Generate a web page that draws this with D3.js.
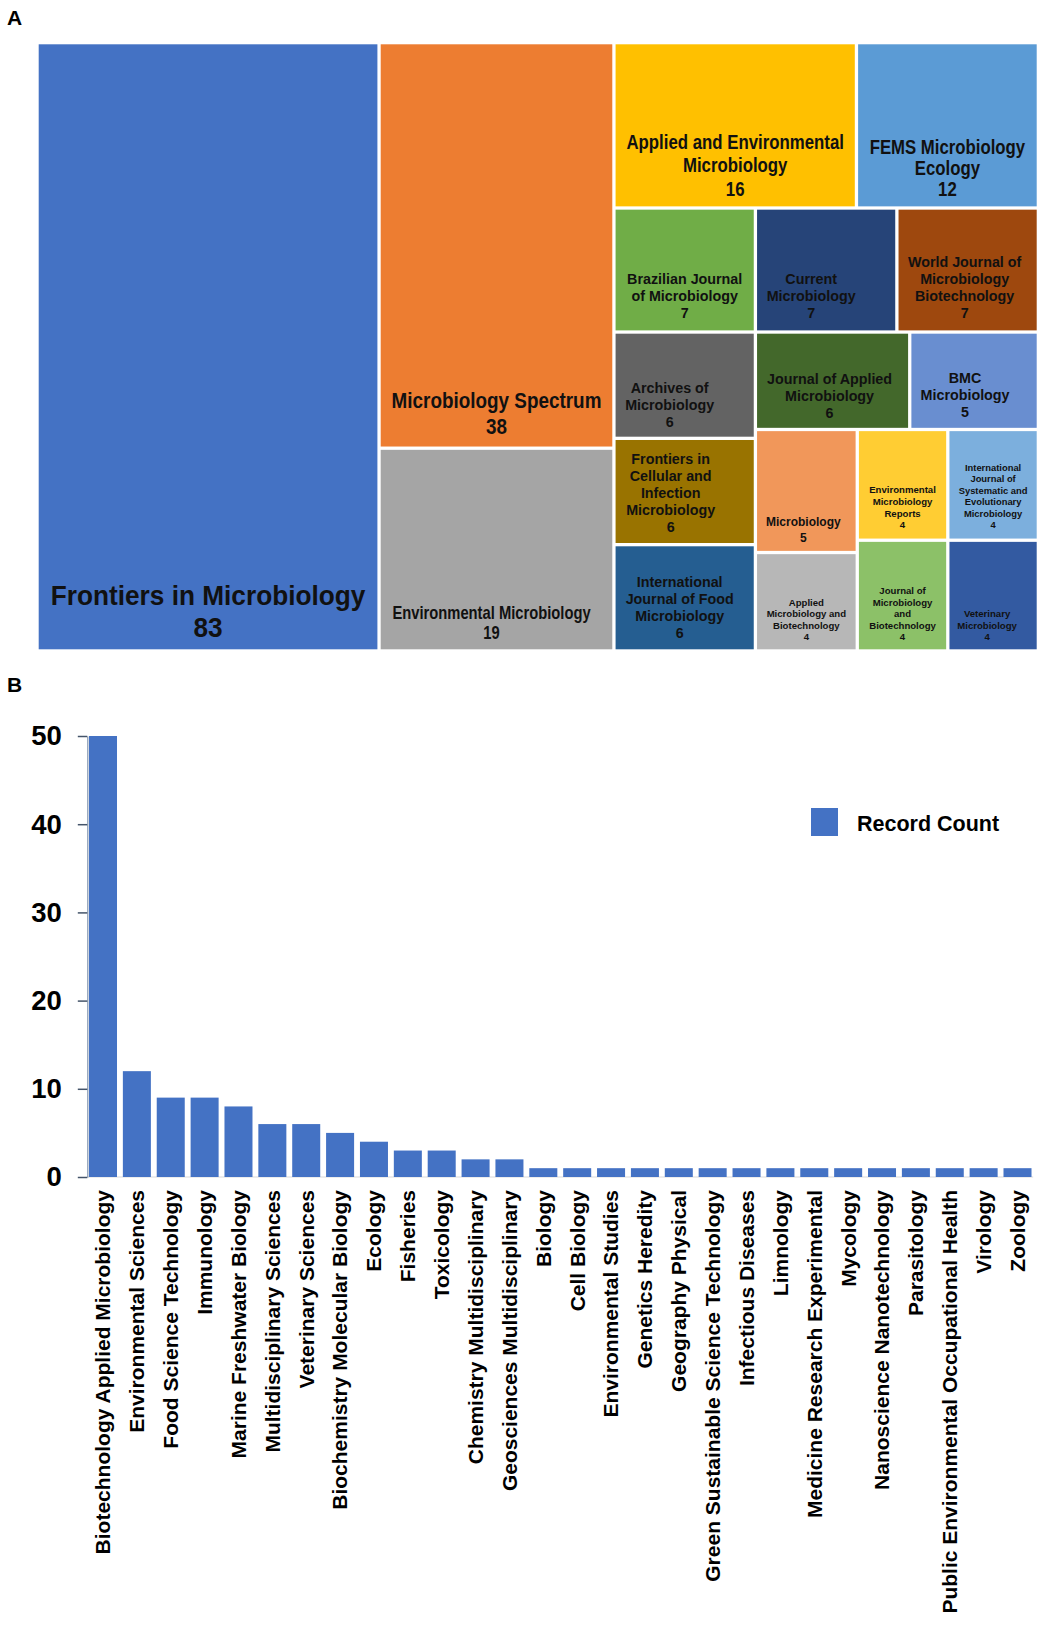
<!DOCTYPE html>
<html>
<head>
<meta charset="utf-8">
<script src="https://cdn.jsdelivr.net/npm/d3@7"></script>
<style>
  html, body { margin: 0; padding: 0; background: #fff; }
  svg { display: block; }
</style>
</head>
<body>
<svg id="chart" width="1045" height="1637"></svg>
<script>
// ---------------- DATA ----------------
// Panel A: journals (line breaks as in the figure) and record counts
const journals = [
  "Frontiers in Microbiology",
  "Microbiology Spectrum",
  "Environmental Microbiology",
  "Applied and Environmental\nMicrobiology",
  "FEMS Microbiology\nEcology",
  "Brazilian Journal\nof Microbiology",
  "Current\nMicrobiology",
  "World Journal of\nMicrobiology\nBiotechnology",
  "Archives of\nMicrobiology",
  "Frontiers in\nCellular and\nInfection\nMicrobiology",
  "International\nJournal of Food\nMicrobiology",
  "Journal of Applied\nMicrobiology",
  "BMC\nMicrobiology",
  "Microbiology",
  "Applied\nMicrobiology and\nBiotechnology",
  "Environmental\nMicrobiology\nReports",
  "International\nJournal of\nSystematic and\nEvolutionary\nMicrobiology",
  "Journal of\nMicrobiology\nand\nBiotechnology",
  "Veterinary\nMicrobiology"
];
const journalCounts = [83, 38, 19, 16, 12, 7, 7, 7, 6, 6, 6, 6, 5, 5, 4, 4, 4, 4, 4];

// Panel B: research areas and record counts
const categories = [
  "Biotechnology Applied Microbiology", "Environmental Sciences", "Food Science Technology",
  "Immunology", "Marine Freshwater Biology", "Multidisciplinary Sciences", "Veterinary Sciences",
  "Biochemistry Molecular Biology", "Ecology", "Fisheries", "Toxicology",
  "Chemistry Multidisciplinary", "Geosciences Multidisciplinary", "Biology", "Cell Biology",
  "Environmental Studies", "Genetics Heredity", "Geography Physical",
  "Green Sustainable Science Technology", "Infectious Diseases", "Limnology",
  "Medicine Research Experimental", "Mycology", "Nanoscience Nanotechnology", "Parasitology",
  "Public Environmental Occupational Health", "Virology", "Zoology"
];
const recordCounts = [50, 12, 9, 9, 8, 6, 6, 5, 4, 3, 3, 2, 2, 1, 1, 1, 1, 1, 1, 1, 1, 1, 1, 1, 1, 1, 1, 1];
const yTicks = [0, 10, 20, 30, 40, 50];
const seriesName = "Record Count";

// ---------------- STYLES ----------------
const cellColors = ["#4472C4", "#ED7D31", "#A5A5A5", "#FFC000", "#5B9BD5", "#70AD47", "#264478",
  "#9E480E", "#636363", "#997300", "#255E91", "#43682B", "#698ED0", "#F1975A", "#B7B7B7",
  "#FFCD33", "#7CAFDD", "#8CC168", "#335AA1"];
const ARIAL = "'Liberation Sans', Arial, Helvetica, sans-serif";
// per-cell label style: [size, lineHeight, bottomPad, dx, horizontal squeeze]
const labelStyles = [
  [28.5, 32, 22, 0, 0.92],
  [22.5, 26, 20, 0, 0.84],
  [18, 20, 17, -5, 0.82],
  [20.5, 23.5, 18, 0, 0.82],
  [19.5, 21, 17, 0, 0.86],
  [14.3, 17, 17, 0, 1],
  [14.3, 17, 17, -15, 1],
  [14.3, 17, 17, -3, 1],
  [14.3, 17, 15, -15, 1],
  [14.3, 17, 16, -14, 1],
  [14.3, 17, 16, -5, 1],
  [14.3, 17, 15, -3, 1],
  [14.3, 17, 16, -9, 1],
  [12, 15.7, 13, -3, 1],
  [9.6, 11.5, 12.5, 0, 1],
  [9.6, 11.8, 13.5, 0, 1],
  [9.4, 11.5, 13.5, 0, 1],
  [9.6, 11.5, 12.5, 0, 1],
  [9.6, 11.5, 12.5, -6, 1]
];

const svg = d3.select("#chart");

// Panel labels
svg.append("text").attr("x", 7).attr("y", 25).text("A")
  .attr("font-family", ARIAL).attr("font-weight", "bold").attr("font-size", 21);
svg.append("text").attr("x", 7).attr("y", 692).text("B")
  .attr("font-family", ARIAL).attr("font-weight", "bold").attr("font-size", 21);

// ---------------- PANEL A: TREEMAP ----------------
const tmX = 38.7, tmY = 44.3, tmW = 998, tmH = 605;
const rootData = { children: journals.map((name, i) => ({ name, value: journalCounts[i], idx: i })) };
const root = d3.hierarchy(rootData)
  .sum(d => d.value || 0)
  .sort((a, b) => b.value - a.value);
d3.treemap()
  .tile(d3.treemapSquarify.ratio(1))
  .size([tmW, tmH])
  .paddingInner(3.3)(root);

const gA = svg.append("g").attr("transform", `translate(${tmX},${tmY})`);
const cells = gA.selectAll("g.cell").data(root.leaves()).join("g").attr("class", "cell");
cells.append("rect")
  .attr("x", d => d.x0).attr("y", d => d.y0)
  .attr("width", d => d.x1 - d.x0).attr("height", d => d.y1 - d.y0)
  .attr("fill", d => cellColors[d.data.idx]);

cells.each(function (d) {
  const [size, lh, pad, dx, sx] = labelStyles[d.data.idx];
  const lines = d.data.name.split("\n").concat([String(d.data.value)]);
  const cx = (d.x0 + d.x1) / 2 + dx;
  const lastY = d.y1 - pad;
  const t = d3.select(this).append("g")
    .attr("transform", `translate(${cx},0) scale(${sx},1)`)
    .append("text")
    .attr("text-anchor", "middle")
    .attr("font-family", ARIAL)
    .attr("font-weight", "bold")
    .attr("font-size", size)
    .attr("fill", "#111");
  lines.forEach((ln, k) => {
    t.append("tspan")
      .attr("x", 0)
      .attr("y", lastY - (lines.length - 1 - k) * lh)
      .attr("dy", "0.35em")
      .text(ln);
  });
});

// ---------------- PANEL B: BAR CHART ----------------
const axisX = 87.3;
const x = d3.scaleBand()
  .domain(categories)
  .range([axisX, 1033.2])
  .paddingInner(0.173)
  .paddingOuter(0.05);
const y = d3.scaleLinear().domain([0, 50]).range([1177, 736]);

// x baseline
svg.append("line")
  .attr("x1", axisX).attr("x2", x.range()[1])
  .attr("y1", y(0)).attr("y2", y(0))
  .attr("stroke", "#d9d9d9").attr("stroke-width", 1);

svg.append("g").selectAll("rect").data(categories).join("rect")
  .attr("x", d => x(d))
  .attr("y", (d, i) => y(recordCounts[i]))
  .attr("width", x.bandwidth())
  .attr("height", (d, i) => y(0) - y(recordCounts[i]))
  .attr("fill", "#4472C4");

const yAxis = svg.append("g")
  .attr("transform", `translate(${axisX},0)`)
  .call(d3.axisLeft(y).tickValues(yTicks).tickSize(9.5).tickSizeOuter(0).tickPadding(16));
yAxis.select(".domain").attr("stroke", "#8497B0").attr("stroke-width", 1.2);
yAxis.selectAll(".tick line").attr("stroke", "#44546A").attr("stroke-width", 1.5);
yAxis.selectAll(".tick text")
  .attr("font-family", ARIAL).attr("font-weight", "bold").attr("font-size", 27.5).attr("fill", "#000");

const xAxis = svg.append("g")
  .attr("transform", `translate(0,${y(0)})`)
  .call(d3.axisBottom(x).tickSize(0).tickPadding(0));
xAxis.select(".domain").remove();
xAxis.selectAll(".tick text")
  .attr("font-family", ARIAL).attr("font-weight", "bold").attr("font-size", 21).attr("fill", "#000")
  .attr("text-anchor", "end")
  .attr("transform", "rotate(-90)")
  .attr("x", -13).attr("y", 0).attr("dy", "0.35em");

// Legend
const leg = svg.append("g").attr("transform", "translate(811,808)");
leg.append("rect").attr("width", 27).attr("height", 28).attr("fill", "#4472C4");
leg.append("text").attr("x", 46).attr("y", 15).attr("dy", "0.35em").text(seriesName)
  .attr("font-family", ARIAL).attr("font-weight", "bold").attr("font-size", 21.5).attr("fill", "#000");
</script>
</body>
</html>
